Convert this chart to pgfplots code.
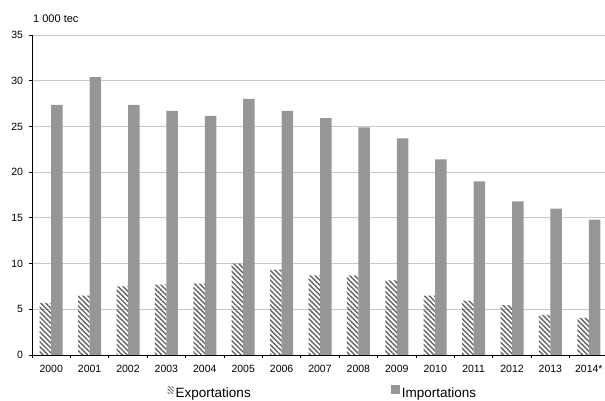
\documentclass[border=0pt]{standalone}
\usepackage{fontspec}
\setmainfont{Liberation Sans}
\usepackage{pgfplots}
\pgfplotsset{compat=1.18}
\usetikzlibrary{patterns.meta}

\definecolor{impgray}{RGB}{150,150,150}
\definecolor{gridgray}{RGB}{200,200,200}
\definecolor{hatchgray}{RGB}{100,100,100}

\begin{document}
\begin{tikzpicture}
\path[use as bounding box] (-32pt,-46pt) rectangle (573pt,355pt);
\begin{axis}[
  at={(0,0)}, anchor=south west,
  scale only axis, width=576pt, height=320pt,
  xmin=-0.5, xmax=14.5, ymin=0, ymax=35,
  clip=false,
  ytick={0,5,...,35},
  xtick={0,...,14},
  xticklabels={2000,2001,2002,2003,2004,2005,2006,2007,2008,2009,2010,2011,2012,2013,2014*},
  major x tick style={draw=none},
  minor xtick={-0.5,0.5,...,14.5},
  minor x tick style={black, line width=0.8pt},
  major y tick style={black, line width=0.8pt},
  axis x line=bottom, axis y line=left,
  axis line style={-, black, line width=0.8pt},
  tick align=outside, major tick length=3pt, minor tick length=3pt,
  ymajorgrids, grid style={gridgray, line width=0.8pt},
  /pgf/number format/assume math mode=true,
  tick label style={font=\fontsize{10.5}{12}\selectfont},
  yticklabel style={xshift=-2.5pt},
  xticklabel style={yshift=-4pt},
  legend style={at={(0.505,-0.143)}, anchor=south, draw=none, fill=none,
    legend columns=2, font=\fontsize{13.5}{15}\selectfont, inner sep=0pt,
    /tikz/every even column/.append style={column sep=138pt}},
]
\addplot[ybar, bar width=11.5pt, bar shift=-5.75pt, draw=none,
  pattern={Lines[angle=-45, distance=3.5pt, line width=1.4pt]}, pattern color=hatchgray,
  legend image code/.code={\path[pattern={Lines[angle=-45, distance=2.4pt, line width=0.9pt]}, pattern color=hatchgray] (-3pt,-1pt) rectangle (3pt,6pt);}]
  coordinates {(0,5.7) (1,6.5) (2,7.5) (3,7.7) (4,7.8) (5,10.0) (6,9.35) (7,8.7) (8,8.7) (9,8.15) (10,6.5) (11,5.95) (12,5.45) (13,4.4) (14,4.05)};
\addlegendentry{Exportations}
\addplot[ybar, bar width=11.5pt, bar shift=5.75pt, draw=none, fill=impgray,
  legend image code/.code={\path[fill=impgray] (0pt,-1pt) rectangle (9pt,8pt);}]
  coordinates {(0,27.35) (1,30.4) (2,27.35) (3,26.7) (4,26.15) (5,28.0) (6,26.7) (7,25.9) (8,24.9) (9,23.7) (10,21.4) (11,19.0) (12,16.8) (13,16.0) (14,14.8)};
\addlegendentry{Importations}
\node[anchor=base west, font=\fontsize{11}{13}\selectfont, inner sep=0pt] at (rel axis cs:0,1) [yshift=12pt, xshift=1pt] {1 000 tec};
\end{axis}
\end{tikzpicture}
\end{document}
